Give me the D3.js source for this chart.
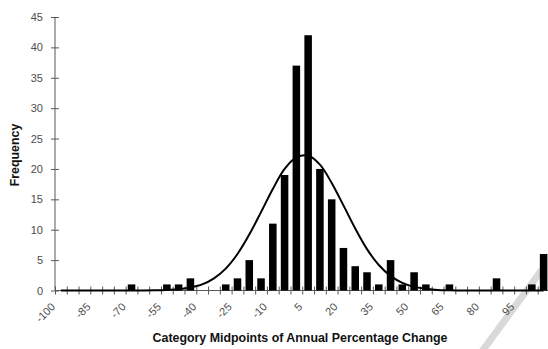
<!DOCTYPE html>
<html>
<head>
<meta charset="utf-8">
<script src="https://cdn.jsdelivr.net/npm/d3@7"></script>
<style>
  body { margin: 0; background: #fff; }
  svg { display: block; font-family: "Liberation Sans", Arial, sans-serif; }
</style>
</head>
<body>
<div id="chart"></div>
<script>
// category midpoints of annual percentage change
const categories = [-100, -95, -90, -85, -80, -75, -70, -65, -60, -55, -50, -45, -40, -35,
  -30, -25, -20, -15, -10, -5, 0, 5, 10, 15, 20, 25, 30, 35, 40, 45, 50, 55, 60, 65, 70,
  75, 80, 85, 90, 95, 100, 105];
// frequency per category
const frequency = [0, 0, 0, 0, 0, 0, 1, 0, 0, 1, 1, 2, 0, 0,
  1, 2, 5, 2, 11, 19, 37, 42, 20, 15, 7, 4, 3, 1, 5, 1, 3, 1, 0, 1, 0,
  0, 0, 2, 0, 0, 1, 6];
// fitted normal curve at each category
const curveValues = [0, 0, 0, 0, 0, 0, 0, 0, 0.03, 0.1, 0.2, 0.5, 1.0, 2.0,
  3.6, 6.0, 9.2, 12.9, 16.7, 20.0, 21.9, 22.2, 20.7, 17.7, 14.0, 10.2, 6.8, 4.2, 2.4, 1.25, 0.6, 0.3, 0.1, 0.04, 0,
  0, 0, 0, 0, 0, 0, 0];
const yTicks = [0, 5, 10, 15, 20, 25, 30, 35, 40, 45];
const xLabels = [-100, -85, -70, -55, -40, -25, -10, 5, 20, 35, 50, 65, 80, 95];

const width = 548, height = 349;
const plotLeft = 55, plotRight = 549.5, plotTop = 17, plotBottom = 290.5;

const svg = d3.select('#chart').append('svg')
  .attr('width', width)
  .attr('height', height);

// scales
const x = d3.scaleBand().domain(categories).range([plotLeft, plotRight])
  .paddingInner(0.36).paddingOuter(0.18);
const y = d3.scaleLinear().domain([0, 45]).range([plotBottom, plotTop]);
const cx = d => x(d) + x.bandwidth() / 2;

// grey scan streak in the lower right corner
svg.append('line')
  .attr('x1', 483).attr('y1', 350)
  .attr('x2', 541).attr('y2', 271)
  .attr('stroke', '#d9d9d9')
  .attr('stroke-width', 7)
  .attr('stroke-linecap', 'round');

// y axis
const yAxis = svg.append('g')
  .attr('transform', `translate(${plotLeft},0)`)
  .call(d3.axisLeft(y).tickValues(yTicks).tickSize(4).tickPadding(8));
yAxis.selectAll('.tick line').attr('x1', -4).attr('x2', 4);
yAxis.select('.domain').attr('d', `M0,${plotBottom}V${plotTop}`);

// x axis: ticks between categories
const edges = d3.scaleLinear().domain([0, categories.length]).range([plotLeft, plotRight]);
const xAxis = svg.append('g')
  .attr('transform', `translate(0,${plotBottom})`)
  .call(d3.axisBottom(edges).ticks(categories.length).tickSize(4).tickFormat(''));
xAxis.selectAll('.tick line').attr('y1', -4).attr('y2', 4);
xAxis.select('.domain').attr('d', `M${plotLeft},0H${plotRight}`);

svg.selectAll('.domain, .tick line').attr('stroke', '#595959').attr('stroke-width', 1);
yAxis.selectAll('text').attr('font-size', 11).attr('fill', '#4d4d4d');
yAxis.attr('font-family', null);
xAxis.attr('font-family', null);

// rotated category labels, every third midpoint
svg.append('g').selectAll('text')
  .data(xLabels)
  .enter().append('text')
  .attr('transform', d => `translate(${cx(d) - 5},${plotBottom + 17}) rotate(-45)`)
  .attr('text-anchor', 'end')
  .attr('font-size', 11)
  .attr('fill', '#4d4d4d')
  .text(d => d);

// bars
svg.append('g').selectAll('rect')
  .data(categories.map((c, i) => ({ c: c, v: frequency[i] })).filter(d => d.v > 0))
  .enter().append('rect')
  .attr('x', d => x(d.c))
  .attr('y', d => y(d.v))
  .attr('width', x.bandwidth())
  .attr('height', d => plotBottom - y(d.v))
  .attr('fill', '#000');

// normal curve
const line = d3.line()
  .x(d => cx(d.c))
  .y(d => y(d.v))
  .curve(d3.curveCatmullRom);
svg.append('path')
  .datum(categories.map((c, i) => ({ c: c, v: curveValues[i] })))
  .attr('d', line)
  .attr('fill', 'none')
  .attr('stroke', '#000')
  .attr('stroke-width', 2);

// axis titles
svg.append('text')
  .attr('x', 300).attr('y', 342)
  .attr('text-anchor', 'middle')
  .attr('font-size', 12.4)
  .attr('font-weight', 'bold')
  .attr('fill', '#111')
  .text('Category Midpoints of Annual Percentage Change');

svg.append('text')
  .attr('transform', 'translate(19,155) rotate(-90)')
  .attr('text-anchor', 'middle')
  .attr('font-size', 12.4)
  .attr('font-weight', 'bold')
  .attr('fill', '#111')
  .text('Frequency');
</script>
</body>
</html>
